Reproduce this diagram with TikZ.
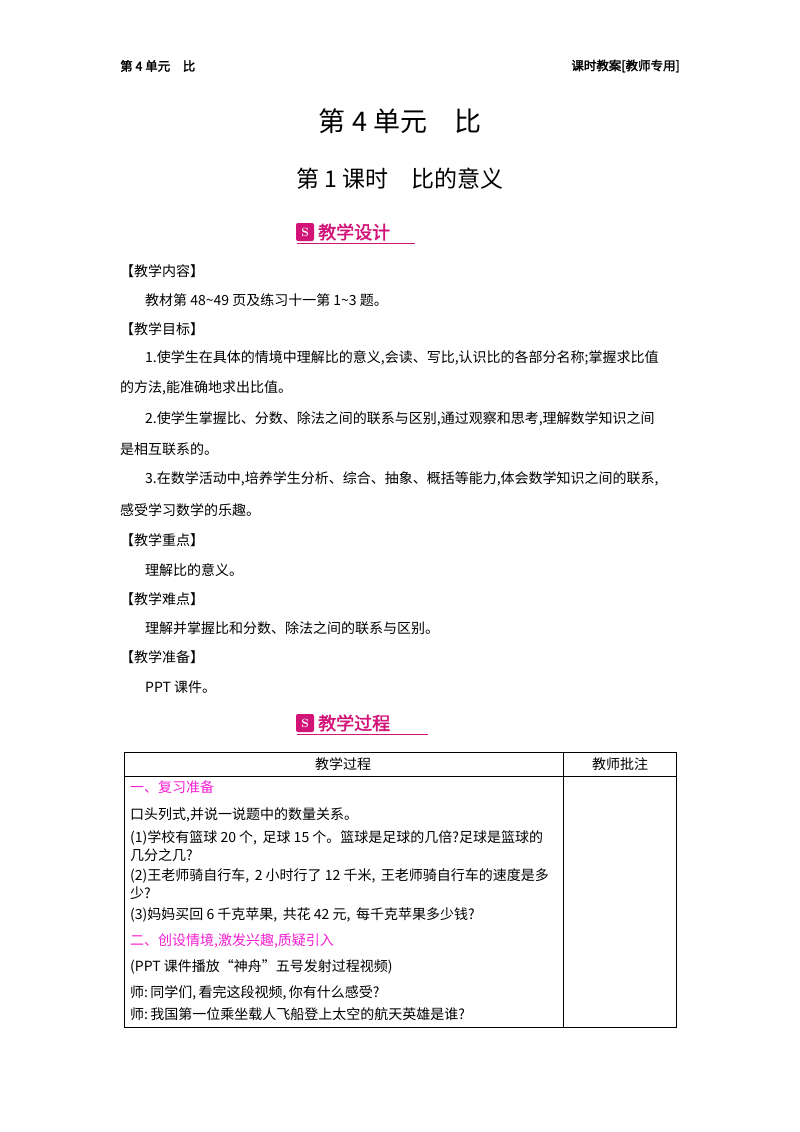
\documentclass[tikz,border=0pt]{standalone}
\usepackage{fontspec}
\newfontfamily\cjk{Noto Sans CJK SC}
\newfontfamily\cjkb{Noto Sans CJK SC}[FakeBold=2]
\definecolor{mag}{RGB}{245,30,210}
\definecolor{hd}{RGB}{210,20,120}
\begin{document}
\begin{tikzpicture}[x=1pt,y=-1pt,
 t/.style={anchor=west,inner sep=0,font=\cjk\fontsize{14}{16}\selectfont},
 tm/.style={t,text=mag},
 hdr/.style={anchor=west,inner sep=0,text=hd,font=\cjkb\fontsize{18}{20}\selectfont},
 ic/.style={fill=hd,rounded corners=2pt}]
\useasboundingbox (0,0) rectangle (800,1132);
\node[t,font=\cjkb\fontsize{12.5}{14}\selectfont] (h1) at (120,66) {第 4 单元\quad 比};
\node[t,anchor=east,font=\cjkb\fontsize{12.5}{14}\selectfont] (h2) at (680,66) {课时教案[教师专用]};
\node[inner sep=0,font=\cjk\fontsize{27}{30}\selectfont] (ti) at (400,121) {第 4 单元\quad 比};
\node[inner sep=0,font=\cjk\fontsize{23}{26}\selectfont] (st) at (400,179) {第 1 课时\quad 比的意义};
% section 1
\node[ic,minimum size=18pt] (i1) at (305,232) {};
\node[text=white,inner sep=0,font=\fontsize{12}{12}\selectfont] at (i1) {\textbf{S}};
\node[hdr] (s1) at (318,232) {教学设计};
\draw[hd,line width=0.8pt] (297,243) -- (415,243);
\node[t] (a1) at (120,271) {【教学内容】};
\node[t] (a2) at (145,300) {教材第 48\textasciitilde49 页及练习十一第 1\textasciitilde3 题。};
\node[t] (a3) at (120,329) {【教学目标】};
\node[t] (a4) at (145,358) {1.使学生在具体的情境中理解比的意义,会读、写比,认识比的各部分名称;掌握求比值};
\node[t] (a5) at (120,388) {的方法,能准确地求出比值。};
\node[t] (a6) at (145,419) {2.使学生掌握比、分数、除法之间的联系与区别,通过观察和思考,理解数学知识之间};
\node[t] (a7) at (120,449) {是相互联系的。};
\node[t] (a8) at (145,479) {3.在数学活动中,培养学生分析、综合、抽象、概括等能力,体会数学知识之间的联系,};
\node[t] (a9) at (120,510) {感受学习数学的乐趣。};
\node[t] (b1) at (120,540) {【教学重点】};
\node[t] (b2) at (145,570) {理解比的意义。};
\node[t] (b3) at (120,599) {【教学难点】};
\node[t] (b4) at (145,628) {理解并掌握比和分数、除法之间的联系与区别。};
\node[t] (b5) at (120,657) {【教学准备】};
\node[t] (b6) at (145,687) {PPT 课件。};
% section 2
\node[ic,minimum size=18pt] (i2) at (305,723) {};
\node[text=white,inner sep=0,font=\fontsize{12}{12}\selectfont] at (i2) {\textbf{S}};
\node[hdr] (s2) at (318,723) {教学过程};
\draw[hd,line width=0.8pt] (297,734) -- (428,734);
% table
\draw[line width=0.9pt] (124,752) rectangle (676,1027);
\draw[line width=0.6pt] (124,776) -- (676,776);
\draw[line width=0.6pt] (563,752) -- (563,1027);
\node[inner sep=0,font=\cjk\fontsize{14}{16}\selectfont] (c1) at (343,764) {教学过程};
\node[inner sep=0,font=\cjk\fontsize{14}{16}\selectfont] (c2) at (620,764) {教师批注};
\node[tm] (r1) at (130,787) {一、复习准备};
\node[t] (r2) at (130,815) {口头列式,并说一说题中的数量关系。};
\node[t] (r3) at (130,838) {(1)学校有篮球 20 个,\, 足球 15 个。篮球是足球的几倍?足球是篮球的};
\node[t] (r4) at (130,855) {几分之几?};
\node[t] (r5) at (130,876) {(2)王老师骑自行车,\, 2 小时行了 12 千米,\, 王老师骑自行车的速度是多};
\node[t] (r6) at (130,893) {少?};
\node[t] (r7) at (130,915) {(3)妈妈买回 6 千克苹果,\, 共花 42 元,\, 每千克苹果多少钱?};
\node[tm] (r8) at (130,941) {二、创设情境,激发兴趣,质疑引入};
\node[t] (r9) at (130,967) {(PPT 课件播放“神舟”五号发射过程视频)};
\node[t] (r10) at (130,993) {师:\,同学们,\,看完这段视频,\,你有什么感受?};
\node[t] (r11) at (130,1014) {师:\,我国第一位乘坐载人飞船登上太空的航天英雄是谁?};
\end{tikzpicture}
\end{document}
